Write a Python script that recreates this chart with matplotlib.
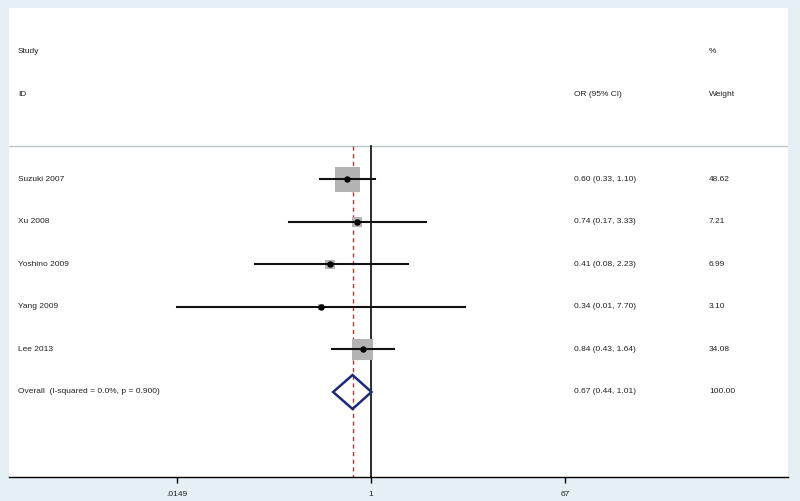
import numpy as np
import matplotlib
matplotlib.use("Agg")
import matplotlib.pyplot as plt
from matplotlib.patches import Polygon
from matplotlib.transforms import blended_transform_factory

# data
studies = ["Suzuki 2007", "Xu 2008", "Yoshino 2009", "Yang 2009", "Lee 2013"]
or_est = [0.60, 0.74, 0.41, 0.34, 0.84]
ci_low = [0.33, 0.17, 0.08, 0.01, 0.43]
ci_high = [1.10, 3.33, 2.23, 7.70, 1.64]
weights = [48.62, 7.21, 6.99, 3.10, 34.08]

overall_label = "Overall  (I-squared = 0.0%, p = 0.900)"
overall_est = 0.67
overall_low = 0.44
overall_high = 1.01

tick_vals = [0.0149, 1, 67]
tick_labels = [".0149", "1", "67"]

plt.rcParams['font.family'] = ['Liberation Sans', 'DejaVu Sans']
txt_color = "#222222"
fs = 6

W, H = 800, 501
fig = plt.figure(figsize=(W / 100, H / 100), dpi=100)
fig.patch.set_facecolor("#e4f0f4")

# axes spans the white panel (pixels 9..788 wide, 8..477 high)
left_px, right_px, top_px, bot_px = 9, 788, 8, 477
ax = fig.add_axes([left_px / W, (H - bot_px) / H,
                   (right_px - left_px) / W, (bot_px - top_px) / H])
ax.set_facecolor("white")
ax.set_xscale("log")
ax.set_xlim(0.00039, 8450)
ax.set_ylim(10.0, -1.035)

for s in ["top", "left", "right"]:
    ax.spines[s].set_visible(False)
ax.spines["bottom"].set_linewidth(1.0)
ax.set_yticks([])
ax.set_xticks(tick_vals)
ax.set_xticklabels(tick_labels, fontsize=fs, color=txt_color)
ax.minorticks_off()
ax.tick_params(axis="x", direction="out", length=4, width=1, pad=6)

tr = blended_transform_factory(ax.transAxes, ax.transData)
def xfrac(px):
    return (px - left_px) / (right_px - left_px)

# headers
ax.text(xfrac(18), 0, "Study", fontsize=fs, color=txt_color, va="center", transform=tr)
ax.text(xfrac(18), 1, "ID", fontsize=fs, color=txt_color, va="center", transform=tr)
ax.text(xfrac(709), 0, "%", fontsize=fs, color=txt_color, va="center", transform=tr)
ax.text(xfrac(574), 1, "OR (95% CI)", fontsize=fs, color=txt_color, va="center", transform=tr)
ax.text(xfrac(709), 1, "Weight", fontsize=fs, color=txt_color, va="center", transform=tr)

sep_y = 2.21
ax.axhline(sep_y, color="#b9c6ca", lw=1.0, zorder=1)

# reference lines
ax.plot([1, 1], [sep_y, 10.0], color="#1a1a1a", lw=1.3, zorder=2)
ax.plot([overall_est, overall_est], [sep_y, 10.0], color="#b03a3a", lw=1.0,
        dashes=(3, 2.5), zorder=2)

rows = np.arange(len(studies)) + 3
xmin_clip = tick_vals[0]
for y, name, est, lo, hi, w in zip(rows, studies, or_est, ci_low, ci_high, weights):
    ax.scatter([est], [y], marker="s", s=w * 6.66, color="#b3b3b3",
               edgecolors="none", zorder=3)
    ax.plot([max(lo, xmin_clip), hi], [y, y], color="#111111", lw=1.5, zorder=4)
    ax.plot([est], [y], marker="o", ms=3.6, color="black", zorder=5)
    ax.text(xfrac(18), y, name, fontsize=fs, color=txt_color, va="center", transform=tr)
    ax.text(xfrac(574), y, f"{est:.2f} ({lo:.2f}, {hi:.2f})", fontsize=fs,
            color=txt_color, va="center", transform=tr)
    ax.text(xfrac(709), y, f"{w:.2f}", fontsize=fs, color=txt_color,
            va="center", transform=tr)

# overall diamond
oy = rows[-1] + 1
h = 0.4
diamond = Polygon([(overall_low, oy), (overall_est, oy - h),
                   (overall_high, oy), (overall_est, oy + h)],
                  closed=True, fill=False, edgecolor="#1c2a78", lw=1.8, zorder=6)
ax.add_patch(diamond)
ax.text(xfrac(18), oy, overall_label, fontsize=fs, color=txt_color, va="center", transform=tr)
ax.text(xfrac(574), oy, f"{overall_est:.2f} ({overall_low:.2f}, {overall_high:.2f})",
        fontsize=fs, color=txt_color, va="center", transform=tr)
ax.text(xfrac(709), oy, f"{sum(weights):.2f}", fontsize=fs, color=txt_color,
        va="center", transform=tr)

plt.savefig("out.png", dpi=100, facecolor=fig.get_facecolor())
